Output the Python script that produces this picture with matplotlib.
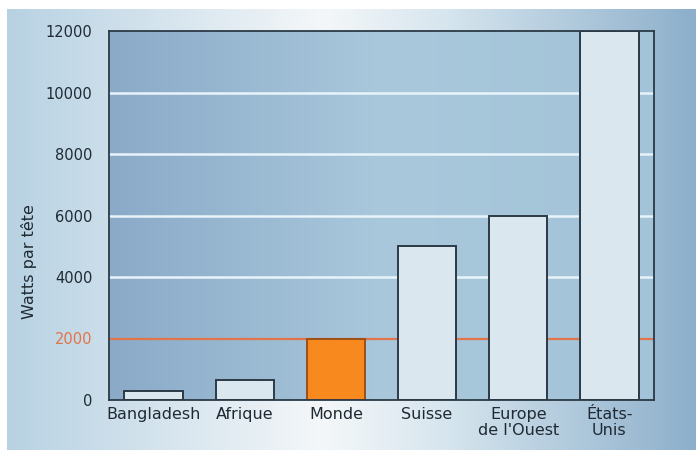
import matplotlib.pyplot as plt
import numpy as np
from matplotlib.colors import LinearSegmentedColormap

categories = ["Bangladesh", "Afrique", "Monde", "Suisse", "Europe\nde l'Ouest", "États-\nUnis"]
watts = [290, 650, 2000, 5000, 6000, 12000]
highlight = "Monde"
y_ticks = [0, 2000, 4000, 6000, 8000, 10000, 12000]
reference_level = 2000

BAR_FILL = "#dae7ef"
BAR_EDGE = "#2b3a46"
ORANGE = "#f7891f"
ORANGE_EDGE = "#9c4f16"
REF_LINE = "#e2744a"
TEXT = "#1f2a33"


def main() -> None:
    fig = plt.figure(figsize=(6.96, 4.5), dpi=100, facecolor="white")

    # outer panel with horizontal light-blue / white / blue gradient
    bg = fig.add_axes([7 / 696, 0, 1 - 7 / 696, 441 / 450], zorder=-10)
    bg_cmap = LinearSegmentedColormap.from_list(
        "panel", [(0, "#b8d2e3"), (0.46, "#f4f7f9"), (0.64, "#d6e5ee"), (1, "#8dafcb")]
    )
    bg.imshow(np.linspace(0, 1, 256)[None, :], aspect="auto", cmap=bg_cmap, extent=[0, 1, 0, 1])
    bg.set_axis_off()

    ax = fig.add_axes([109 / 696, 50 / 450, 545 / 696, 369 / 450])
    x = np.arange(len(categories))
    ax.set_xlim(-0.49, len(categories) - 0.51)
    ax.set_ylim(0, 12000)

    # plot-area gradient, darker at left
    plot_cmap = LinearSegmentedColormap.from_list("plot", ["#8aaac8", "#a9c8dc", "#a3c3d8"])
    ax.imshow(np.linspace(0, 1, 256)[None, :], aspect="auto", cmap=plot_cmap,
              extent=[-0.49, len(categories) - 0.51, 0, 12000], zorder=0)

    for yv in y_ticks[2:-1]:
        ax.axhline(yv, color="#e9f4fa", linewidth=1.8, zorder=1)
    ax.axhline(reference_level, color=REF_LINE, linewidth=1.6, zorder=1)

    fills = [ORANGE if c == highlight else BAR_FILL for c in categories]
    edges = [ORANGE_EDGE if c == highlight else BAR_EDGE for c in categories]
    ax.bar(x, watts, width=0.64, color=fills, edgecolor=edges, linewidth=1.4, zorder=2)

    ax.set_yticks(y_ticks)
    ax.set_yticklabels([str(v) for v in y_ticks])
    ax.set_xticks(x)
    ax.set_xticklabels(categories, linespacing=1.05)
    ax.tick_params(axis="y", length=0, pad=12, labelsize=10.5, labelcolor=TEXT)
    ax.tick_params(axis="x", length=0, pad=5, labelsize=11.5, labelcolor=TEXT)
    for lab in ax.get_yticklabels():
        if lab.get_text() == str(reference_level):
            lab.set_color(REF_LINE)

    ax.set_ylabel("Watts par tête", fontsize=11.5, color=TEXT)
    ax.yaxis.set_label_coords(-0.133, 0.374)

    for side in ["left", "right", "top", "bottom"]:
        ax.spines[side].set_color(BAR_EDGE)
        ax.spines[side].set_linewidth(1.3)

    fig.savefig("out.png", dpi=100, facecolor="white")


if __name__ == "__main__":
    main()
